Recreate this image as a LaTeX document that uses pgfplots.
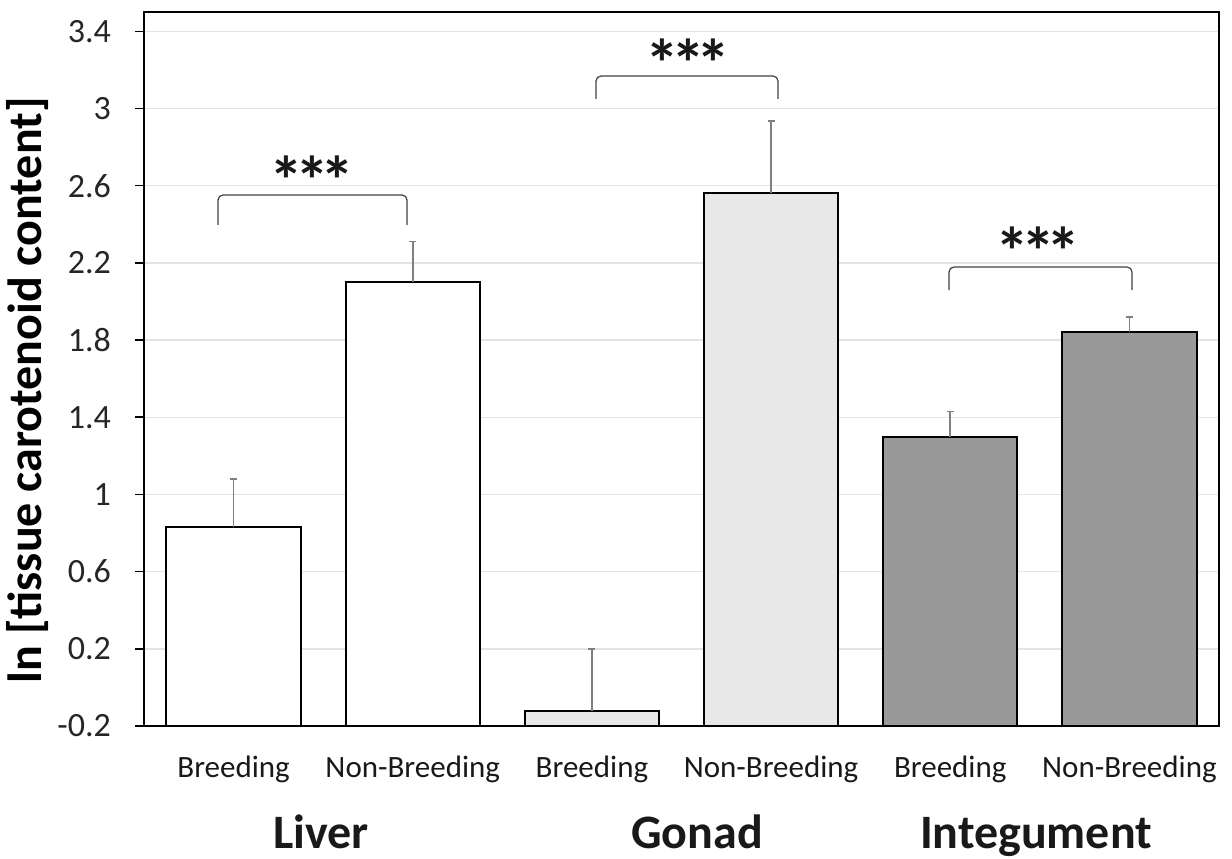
\documentclass[border=0pt]{standalone}
\usepackage{pgfplots}
\pgfplotsset{compat=1.18}
\usepackage{fontspec}
\setmainfont{Carlito}
\definecolor{gonadfill}{HTML}{E8E8E8}
\definecolor{integfill}{HTML}{999999}
\definecolor{errcol}{HTML}{7F7F7F}
\definecolor{gridcol}{HTML}{E4E4E4}
\definecolor{brk}{HTML}{404040}
\newcommand{\stars}{*\kern-4pt*\kern-4pt*}
\begin{document}
\begin{tikzpicture}
\useasboundingbox (-72pt,-66pt) rectangle (544pt,363pt);
\begin{axis}[
  at={(0pt,0pt)}, anchor=south west,
  scale only axis, width=537.5pt, height=357pt,
  xmin=-0.5, xmax=5.5, ymin=0, ymax=3.7,
  xtick={0,1,2,3,4,5},
  xticklabels={Breeding,Non-Breeding,Breeding,Non-Breeding,Breeding,Non-Breeding},
  ytick={0,0.4,0.8,1.2,1.6,2,2.4,2.8,3.2,3.6},
  yticklabels={-0.2,0.2,0.6,1,1.4,1.8,2.2,2.6,3,3.4},
  ymajorgrids, grid style={gridcol, line width=0.7pt},
  axis line style={black, line width=1pt},
  xtick style={draw=none},
  ytick style={black, line width=0.8pt},
  ytick pos=left, tick align=outside, major tick length=4.5pt,
  yticklabel style={font=\fontsize{17}{17}\selectfont, text=black!85, xshift=-8.5pt},
  xticklabel style={font=\fontsize{15.5}{15.5}\selectfont, text=black!90, anchor=base, yshift=-21pt},
  ylabel={ln [tissue carotenoid content]},
  ylabel style={font=\bfseries\fontsize{24}{24}\selectfont, at={(axis description cs:-0.108,0.47)}, anchor=center},
  y filter/.expression={y+0.2},
  clip=false,
]
\addplot[ybar, bar width=0.75, bar shift=0pt, fill=white, draw=black, line width=1pt,
  error bars/.cd, y dir=plus, y explicit,
  error bar style={errcol, line width=0.8pt},
  error mark options={errcol, line width=0.8pt, mark size=1.75pt, rotate=90}]
  coordinates {(0,0.83) +- (0,0.25) (1,2.10) +- (0,0.21)};
\addplot[ybar, bar width=0.75, bar shift=0pt, fill=gonadfill, draw=black, line width=1pt,
  error bars/.cd, y dir=plus, y explicit,
  error bar style={errcol, line width=0.8pt},
  error mark options={errcol, line width=0.8pt, mark size=1.75pt, rotate=90}]
  coordinates {(2,-0.12) +- (0,0.32) (3,2.56) +- (0,0.375)};
\addplot[ybar, bar width=0.75, bar shift=0pt, fill=integfill, draw=black, line width=1pt,
  error bars/.cd, y dir=plus, y explicit,
  error bar style={errcol, line width=0.8pt},
  error mark options={errcol, line width=0.8pt, mark size=1.75pt, rotate=90}]
  coordinates {(4,1.30) +- (0,0.13) (5,1.84) +- (0,0.08)};
\end{axis}
% significance brackets
\draw[brk, line width=0.6pt, rounded corners=2.5pt] (37pt,250.5pt) -- (37pt,265.5pt) -- (131.5pt,265.5pt) -- (131.5pt,250.5pt);
\draw[brk, line width=0.6pt, rounded corners=2.5pt] (226pt,313.5pt) -- (226pt,325pt) -- (317pt,325pt) -- (317pt,313.5pt);
\draw[brk, line width=0.6pt, rounded corners=2.5pt] (402.5pt,218pt) -- (402.5pt,229.5pt) -- (494pt,229.5pt) -- (494pt,218pt);
\node[font=\bfseries\fontsize{34}{34}\selectfont, text=black!90, anchor=base] at (84pt,260.5pt) {\stars};
\node[font=\bfseries\fontsize{34}{34}\selectfont, text=black!90, anchor=base] at (272pt,319pt) {\stars};
\node[font=\bfseries\fontsize{34}{34}\selectfont, text=black!90, anchor=base] at (447pt,225.5pt) {\stars};
% group labels
\node[font=\bfseries\fontsize{24}{24}\selectfont, text=black!90, anchor=base, inner sep=0pt] at (88.5pt,-61pt) {Liver};
\node[font=\bfseries\fontsize{24}{24}\selectfont, text=black!90, anchor=base, inner sep=0pt] at (276.5pt,-61pt) {Gonad};
\node[font=\bfseries\fontsize{24}{24}\selectfont, text=black!90, anchor=base, inner sep=0pt] at (446pt,-61pt) {Integument};
\end{tikzpicture}
\end{document}
